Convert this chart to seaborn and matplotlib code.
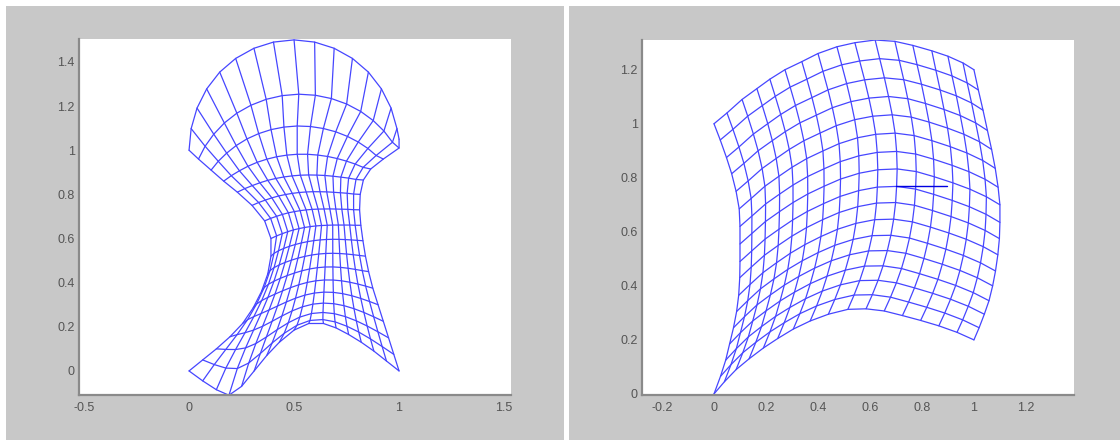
import numpy as np
import pandas as pd
import matplotlib
matplotlib.use("Agg")
import matplotlib.pyplot as plt
from matplotlib.patches import Rectangle
import seaborn as sns

# ---- left panel: warped grid, boundary nodes ----
left_bottom = [(0.00, 0.00), (0.065, -0.045), (0.13, -0.085), (0.19, -0.11), (0.25, -0.07),
               (0.31, 0.00), (0.37, 0.07), (0.43, 0.13), (0.50, 0.185), (0.57, 0.215),
               (0.64, 0.215), (0.70, 0.195), (0.76, 0.165), (0.82, 0.13), (0.88, 0.09),
               (0.94, 0.045), (1.00, 0.00)]
left_waist = [(0.390, 0.600), (0.417, 0.612), (0.444, 0.622), (0.470, 0.631), (0.497, 0.639),
              (0.524, 0.645), (0.550, 0.650), (0.577, 0.654), (0.604, 0.657), (0.631, 0.659),
              (0.658, 0.660), (0.684, 0.661), (0.711, 0.661), (0.738, 0.661), (0.765, 0.661),
              (0.791, 0.660), (0.818, 0.660)]
left_top = [(0.000, 1.000), (0.010, 1.098), (0.038, 1.191), (0.084, 1.278), (0.146, 1.354),
            (0.222, 1.416), (0.309, 1.462), (0.402, 1.490), (0.500, 1.500), (0.598, 1.490),
            (0.691, 1.462), (0.778, 1.416), (0.854, 1.354), (0.916, 1.278), (0.962, 1.191),
            (0.990, 1.098), (1.000, 1.050)]
left_side = [(0.00, 0.00), (0.065, 0.05), (0.13, 0.10), (0.195, 0.155), (0.255, 0.215),
             (0.305, 0.285), (0.345, 0.36), (0.375, 0.44), (0.39, 0.52), (0.39, 0.60),
             (0.36, 0.68), (0.30, 0.75), (0.23, 0.81), (0.165, 0.86), (0.105, 0.91),
             (0.045, 0.96), (0.00, 1.00)]
right_side = [(1.00, 0.00), (0.975, 0.075), (0.95, 0.15), (0.925, 0.225), (0.90, 0.30),
              (0.875, 0.375), (0.855, 0.45), (0.84, 0.52), (0.828, 0.59), (0.818, 0.66),
              (0.812, 0.73), (0.815, 0.80), (0.83, 0.865), (0.865, 0.915), (0.925, 0.96),
              (1.00, 1.01), (1.00, 1.05)]
# spacing of the rows above the waist (0 = waist row, 1 = top arc)
rows_high = [0, 0.0, 0.02, 0.05, 0.15, 0.33, 0.54, 1.0]

# ---- right panel ----
r_bottom = [(0.0, 0.0), (0.04, 0.045), (0.085, 0.09), (0.135, 0.13), (0.19, 0.17),
            (0.245, 0.205), (0.305, 0.24), (0.37, 0.27), (0.44, 0.295), (0.515, 0.313),
            (0.585, 0.315), (0.655, 0.307), (0.725, 0.29), (0.795, 0.272), (0.865, 0.252),
            (0.935, 0.228), (1.0, 0.2)]
r_top = [(0.0, 1.0), (0.05, 1.04), (0.108, 1.09), (0.165, 1.13), (0.215, 1.165),
         (0.273, 1.20), (0.338, 1.23), (0.40, 1.26), (0.473, 1.285), (0.542, 1.30),
         (0.62, 1.31), (0.696, 1.305), (0.765, 1.29), (0.838, 1.27), (0.90, 1.25),
         (0.958, 1.225), (1.0, 1.2)]
r_left = [(0.0, 0.0), (0.025, 0.065), (0.045, 0.125), (0.06, 0.185), (0.075, 0.245),
          (0.087, 0.305), (0.095, 0.365), (0.099, 0.43), (0.10, 0.49), (0.10, 0.555),
          (0.10, 0.62), (0.097, 0.685), (0.085, 0.75), (0.068, 0.815), (0.048, 0.875),
          (0.024, 0.94), (0.0, 1.0)]
r_right = [(1.0, 0.2), (1.02, 0.245), (1.04, 0.295), (1.058, 0.345), (1.072, 0.40),
           (1.083, 0.455), (1.092, 0.515), (1.098, 0.575), (1.10, 0.635), (1.10, 0.70),
           (1.093, 0.765), (1.082, 0.835), (1.068, 0.905), (1.052, 0.975), (1.035, 1.05),
           (1.017, 1.125), (1.0, 1.2)]
dark_seg = [(0.70, 0.77), (0.895, 0.77)]

left_xticks = [-0.5, 0, 0.5, 1, 1.5]
left_xlabels = ['-0.5', '0', '0.5', '1', '1.5']
left_yticks = [0, 0.2, 0.4, 0.6, 0.8, 1, 1.2, 1.4]
left_ylabels = ['0', '0.2', '0.4', '0.6', '0.8', '1', '1.2', '1.4']
right_xticks = [-0.2, 0, 0.2, 0.4, 0.6, 0.8, 1, 1.2]
right_xlabels = ['-0.2', '0', '0.2', '0.4', '0.6', '0.8', '1', '1.2']
right_yticks = [0, 0.2, 0.4, 0.6, 0.8, 1, 1.2]
right_ylabels = ['0', '0.2', '0.4', '0.6', '0.8', '1', '1.2']


def coons(bot, top, lft, rgt, fv=None):
    bot, top, lft, rgt = map(np.asarray, (bot, top, lft, rgt))
    if fv is None:
        fv = np.linspace(0, 1, len(lft))
    U = np.linspace(0, 1, len(bot))[None, :, None]
    V = np.asarray(fv)[:, None, None]
    P = ((1 - V) * bot[None] + V * top[None] + (1 - U) * lft[:, None] + U * rgt[:, None]
         - ((1 - U) * (1 - V) * bot[0] + U * (1 - V) * bot[-1]
            + (1 - U) * V * top[0] + U * V * top[-1]))
    return P


def relax(P, n_iter=3000):
    # laplace smoothing of the inner nodes, edges stay where they were read
    P = P.copy()
    for _ in range(n_iter):
        P[1:-1, 1:-1] = 0.25 * (P[2:, 1:-1] + P[:-2, 1:-1] + P[1:-1, 2:] + P[1:-1, :-2])
    return P


def grid_frame(P):
    parts = []
    n = 0
    for i in range(P.shape[0]):
        parts.append(pd.DataFrame({'x': P[i, :, 0], 'y': P[i, :, 1], 'line': n}))
        n += 1
    for j in range(P.shape[1]):
        parts.append(pd.DataFrame({'x': P[:, j, 0], 'y': P[:, j, 1], 'line': n}))
        n += 1
    return pd.concat(parts, ignore_index=True)


low = relax(coons(left_bottom, left_waist, left_side[:10], right_side[:10]))
high = coons(left_waist, left_top, left_side[9:], right_side[9:], rows_high)
P_left = np.concatenate([low, high[1:]], axis=0)
P_right = coons(r_bottom, r_top, r_left, r_right)

df_left = grid_frame(P_left)
df_right = grid_frame(P_right)

sns.set_style('white')
plt.rcParams['font.family'] = ['Liberation Sans', 'DejaVu Sans']
plt.rcParams['axes.unicode_minus'] = False

fig = plt.figure(figsize=(11.2, 4.41), dpi=100)
fig.patch.set_facecolor('white')
W, H = 1120, 441
for x0, x1 in [(6, 564), (569, 1120)]:
    fig.add_artist(Rectangle((x0 / W, 1 / H), (x1 - x0) / W, (435 - 1) / H,
                             transform=fig.transFigure, facecolor='#c8c8c8',
                             edgecolor='none', zorder=-10))

ax1 = fig.add_axes([79 / W, (H - 395) / H, 432 / W, 356 / H])
ax2 = fig.add_axes([642 / W, (H - 395) / H, 432 / W, 355 / H])

line_col = '#4646ff'
sns.lineplot(data=df_left, x='x', y='y', units='line', estimator=None, sort=False,
             color=line_col, linewidth=0.9, ax=ax1, legend=False)
sns.lineplot(data=df_right, x='x', y='y', units='line', estimator=None, sort=False,
             color=line_col, linewidth=0.9, ax=ax2, legend=False)
seg = np.array(dark_seg)
ax2.plot(seg[:, 0], seg[:, 1], color='#0000e0', linewidth=1.0)

ax1.set_xlim(-0.524, 1.533)
ax1.set_ylim(-0.109, 1.504)
ax2.set_xlim(-0.277, 1.385)
ax2.set_ylim(-0.004, 1.31)

for ax, xt, xl, yt, yl in [(ax1, left_xticks, left_xlabels, left_yticks, left_ylabels),
                           (ax2, right_xticks, right_xlabels, right_yticks, right_ylabels)]:
    ax.set_facecolor('white')
    ax.set_xticks(xt)
    ax.set_xticklabels(xl)
    ax.set_yticks(yt)
    ax.set_yticklabels(yl)
    ax.set_xlabel('')
    ax.set_ylabel('')
    for s in ['top', 'right']:
        ax.spines[s].set_visible(False)
    for s in ['left', 'bottom']:
        ax.spines[s].set_color('#8a8a8a')
        ax.spines[s].set_linewidth(1.6)
    ax.tick_params(direction='in', length=3, width=0.8, color='#707070',
                   labelcolor='#555555', labelsize=9)
    ax.tick_params(axis='x', pad=5)
    ax.tick_params(axis='y', pad=3)

fig.savefig('out.png', dpi=100, facecolor='white')
